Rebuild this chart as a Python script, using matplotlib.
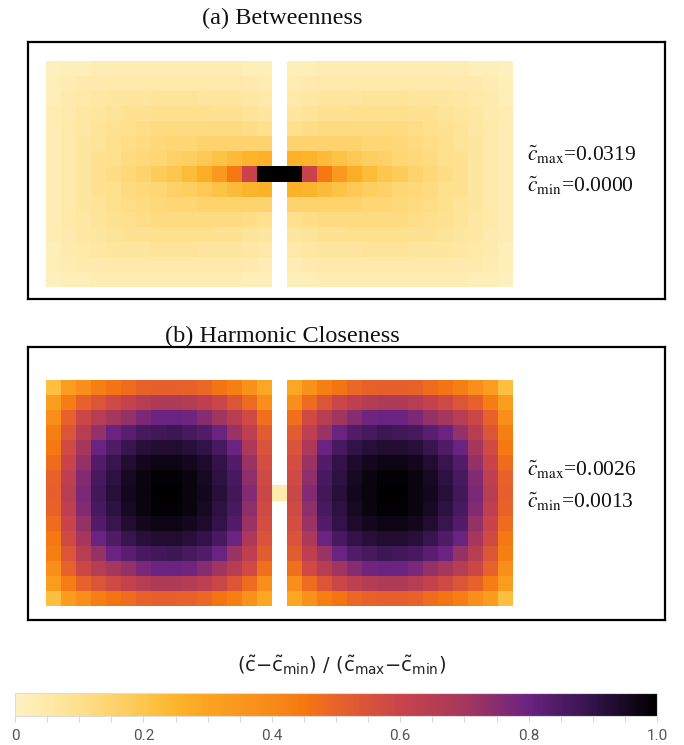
import numpy as np
import matplotlib
matplotlib.use("Agg")
import matplotlib.pyplot as plt
from matplotlib.colors import LinearSegmentedColormap, Normalize
import matplotlib.cm as cm

plt.rcParams['mathtext.fontset'] = 'stix'
plt.rcParams['font.family'] = ['Liberation Serif', 'DejaVu Serif']

nan = np.nan

# ---------------- data ----------------
titles = ["(a) Betweenness", "(b) Harmonic Closeness"]
c_max = ["0.0319", "0.0026"]
c_min = ["0.0000", "0.0013"]

# normalized betweenness: 15 rows x 31 columns (middle column = bridge)
betweenness = [
    [.01,.02,.02,.03,.03,.03,.03,.03,.03,.03,.03,.03,.03,.02,.02, nan, .02,.02,.03,.03,.03,.03,.03,.03,.03,.03,.03,.03,.02,.02,.01],
    [.02,.03,.04,.04,.05,.05,.05,.05,.05,.05,.05,.05,.05,.04,.03, nan, .03,.04,.05,.05,.05,.05,.05,.05,.05,.05,.05,.04,.04,.03,.02],
    [.02,.04,.05,.06,.07,.07,.07,.08,.08,.08,.07,.07,.07,.06,.05, nan, .05,.06,.07,.07,.07,.08,.08,.08,.07,.07,.07,.06,.05,.04,.02],
    [.03,.04,.06,.07,.08,.09,.09,.10,.10,.10,.10,.09,.09,.08,.07, nan, .07,.08,.09,.09,.10,.10,.10,.10,.09,.09,.08,.07,.06,.04,.03],
    [.03,.05,.06,.08,.09,.10,.11,.12,.12,.12,.12,.12,.12,.11,.10, nan, .10,.11,.12,.12,.12,.12,.12,.12,.11,.10,.09,.08,.06,.05,.03],
    [.03,.05,.07,.08,.10,.11,.12,.13,.14,.14,.15,.15,.15,.15,.15, nan, .15,.15,.15,.15,.15,.14,.14,.13,.12,.11,.10,.08,.07,.05,.03],
    [.03,.05,.07,.09,.10,.12,.13,.14,.16,.17,.19,.21,.23,.25,.26, nan, .26,.25,.23,.21,.19,.17,.16,.14,.13,.12,.10,.09,.07,.05,.03],
    [.03,.05,.07,.09,.11,.13,.15,.18,.20,.23,.27,.34,.45,.60,1.0, 1.0, 1.0,.60,.45,.34,.27,.23,.20,.18,.15,.13,.11,.09,.07,.05,.03],
    [.03,.05,.07,.09,.10,.12,.13,.14,.16,.17,.19,.21,.23,.25,.26, nan, .26,.25,.23,.21,.19,.17,.16,.14,.13,.12,.10,.09,.07,.05,.03],
    [.03,.05,.07,.08,.10,.11,.12,.13,.14,.14,.15,.15,.15,.15,.15, nan, .15,.15,.15,.15,.15,.14,.14,.13,.12,.11,.10,.08,.07,.05,.03],
    [.03,.05,.06,.08,.09,.10,.11,.12,.12,.12,.12,.12,.12,.11,.10, nan, .10,.11,.12,.12,.12,.12,.12,.12,.11,.10,.09,.08,.06,.05,.03],
    [.03,.04,.06,.07,.08,.09,.09,.10,.10,.10,.10,.09,.09,.08,.07, nan, .07,.08,.09,.09,.10,.10,.10,.10,.09,.09,.08,.07,.06,.04,.03],
    [.02,.04,.05,.06,.07,.07,.07,.08,.08,.08,.07,.07,.07,.06,.05, nan, .05,.06,.07,.07,.07,.08,.08,.08,.07,.07,.07,.06,.05,.04,.02],
    [.02,.03,.04,.04,.05,.05,.05,.05,.05,.05,.05,.05,.05,.04,.03, nan, .03,.04,.05,.05,.05,.05,.05,.05,.05,.05,.05,.04,.04,.03,.02],
    [.01,.02,.02,.03,.03,.03,.03,.03,.03,.03,.03,.03,.03,.02,.02, nan, .02,.02,.03,.03,.03,.03,.03,.03,.03,.03,.03,.03,.02,.02,.01],
]

# normalized harmonic closeness: 15 rows x 31 columns
closeness = [
    [.22,.33,.38,.43,.46,.48,.50,.51,.51,.50,.49,.46,.43,.37,.29, nan, .29,.37,.43,.46,.49,.50,.51,.51,.50,.48,.46,.43,.38,.33,.22],
    [.33,.44,.50,.54,.58,.61,.65,.67,.67,.66,.63,.59,.54,.48,.38, nan, .38,.48,.54,.59,.63,.66,.67,.67,.65,.61,.58,.54,.50,.44,.33],
    [.38,.50,.59,.65,.70,.73,.77,.80,.80,.79,.75,.71,.65,.58,.47, nan, .47,.58,.65,.71,.75,.79,.80,.80,.77,.73,.70,.65,.59,.50,.38],
    [.43,.54,.65,.73,.80,.83,.86,.87,.88,.86,.84,.80,.72,.63,.52, nan, .52,.63,.72,.80,.84,.86,.88,.87,.86,.83,.80,.73,.65,.54,.43],
    [.45,.58,.70,.80,.85,.89,.92,.93,.93,.92,.90,.86,.80,.68,.55, nan, .55,.68,.80,.86,.90,.92,.93,.93,.92,.89,.85,.80,.70,.58,.45],
    [.48,.60,.73,.84,.89,.93,.96,.97,.97,.96,.94,.90,.84,.72,.57, nan, .57,.72,.84,.90,.94,.96,.97,.97,.96,.93,.89,.84,.73,.60,.48],
    [.50,.63,.76,.86,.91,.95,.98,.99,.99,.98,.95,.91,.86,.74,.58, nan, .58,.74,.86,.91,.95,.98,.99,.99,.98,.95,.91,.86,.76,.63,.50],
    [.51,.65,.77,.87,.92,.96,.98,1.0,1.0,.98,.96,.92,.87,.76,.59, .04, .59,.76,.87,.92,.96,.98,1.0,1.0,.98,.96,.92,.87,.77,.65,.51],
    [.50,.63,.76,.86,.91,.95,.98,.99,.99,.98,.95,.91,.86,.74,.58, nan, .58,.74,.86,.91,.95,.98,.99,.99,.98,.95,.91,.86,.76,.63,.50],
    [.48,.60,.73,.84,.89,.93,.96,.97,.97,.96,.94,.90,.84,.72,.57, nan, .57,.72,.84,.90,.94,.96,.97,.97,.96,.93,.89,.84,.73,.60,.48],
    [.45,.58,.70,.80,.85,.89,.92,.93,.93,.92,.90,.86,.80,.68,.55, nan, .55,.68,.80,.86,.90,.92,.93,.93,.92,.89,.85,.80,.70,.58,.45],
    [.43,.54,.65,.73,.80,.83,.86,.87,.88,.86,.84,.80,.72,.63,.52, nan, .52,.63,.72,.80,.84,.86,.88,.87,.86,.83,.80,.73,.65,.54,.43],
    [.38,.50,.59,.65,.70,.73,.77,.80,.80,.79,.75,.71,.65,.58,.47, nan, .47,.58,.65,.71,.75,.79,.80,.80,.77,.73,.70,.65,.59,.50,.38],
    [.33,.44,.50,.54,.58,.61,.65,.67,.67,.66,.63,.59,.54,.48,.38, nan, .38,.48,.54,.59,.63,.66,.67,.67,.65,.61,.58,.54,.50,.44,.33],
    [.22,.33,.38,.43,.46,.48,.50,.51,.51,.50,.49,.46,.43,.37,.29, nan, .29,.37,.43,.46,.49,.50,.51,.51,.50,.48,.46,.43,.38,.33,.22],
]

cbar_ticks = [0, 0.2, 0.4, 0.6, 0.8, 1.0]
cbar_ticklabels = ["0", "0.2", "0.4", "0.6", "0.8", "1.0"]

# colour scale (reversed sunset-like)
cm_pos = [0.0, 0.1, 0.2, 0.25, 0.3, 0.4, 0.45, 0.5, 0.6, 0.7, 0.8, 0.9, 1.0]
cm_hex = ['#fef1c2', '#fee08c', '#fdc64c', '#fcb42a', '#fba421', '#f88a18', '#f57811',
          '#e8632a', '#c9444a', '#a6375c', '#6a2381', '#33134a', '#000000']
cmap = LinearSegmentedColormap.from_list("sunset_r", list(zip(cm_pos, cm_hex)))
cmap.set_bad((1, 1, 1, 0))

# ---------------- layout ----------------
W, H = 684, 745
fig = plt.figure(figsize=(W / 100, H / 100), dpi=100)

def fax(x0, y0, x1, y1):
    return fig.add_axes([x0 / W, 1 - y1 / H, (x1 - x0) / W, (y1 - y0) / H])

grid_x0, grid_x1 = 46, 513
panels = [
    dict(frame=(28, 42, 665, 299), gy0=61, gy1=287, title_y=18, ty=(155, 186), data=betweenness),
    dict(frame=(28, 347, 665, 620), gy0=380, gy1=606, title_y=336, ty=(470, 502), data=closeness),
]

norm = Normalize(0, 1)
for i, p in enumerate(panels):
    fx0, fy0, fx1, fy1 = p['frame']
    ax = fax(fx0, fy0, fx1, fy1)
    arr = np.ma.masked_invalid(np.array(p['data'], dtype=float))
    nr, nc = arr.shape
    cw = (grid_x1 - grid_x0) / nc
    ch = (p['gy1'] - p['gy0']) / nr
    ax.pcolormesh(np.arange(nc + 1), np.arange(nr + 1), arr, cmap=cmap, norm=norm,
                  shading='flat', edgecolors='none', antialiased=False)
    ax.set_xlim((fx0 - grid_x0) / cw, (fx1 - grid_x0) / cw)
    ax.set_ylim((fy1 - p['gy0']) / ch, (fy0 - p['gy0']) / ch)
    ax.set_xticks([]); ax.set_yticks([])
    for s in ax.spines.values():
        s.set_linewidth(1.6)
        s.set_color('black')
    fig.text(282 / W, 1 - p['title_y'] / H, titles[i], ha='center', va='center',
             fontsize=17.5, color='#111111')
    fig.text(527 / W, 1 - p['ty'][0] / H, r'$\tilde{c}_{\mathrm{max}}$=' + c_max[i],
             ha='left', va='center', fontsize=15.5, color='#111111')
    fig.text(527 / W, 1 - p['ty'][1] / H, r'$\tilde{c}_{\mathrm{min}}$=' + c_min[i],
             ha='left', va='center', fontsize=15.5, color='#111111')

# colour bar
cax = fax(15, 693, 657, 716)
sm = cm.ScalarMappable(norm=norm, cmap=cmap)
cb = fig.colorbar(sm, cax=cax, orientation='horizontal')
cb.outline.set_edgecolor('#dddddd')
cb.outline.set_linewidth(0.8)
cb.set_ticks(cbar_ticks)
cb.set_ticklabels(cbar_ticklabels)
cax.xaxis.set_minor_locator(matplotlib.ticker.MultipleLocator(0.05))
cax.tick_params(axis='x', which='both', length=4, width=0.8, color='#d8d8d8',
                labelsize=11, labelcolor='#555555', pad=5)
for lab in cax.get_xticklabels():
    lab.set_fontfamily(['Roboto', 'DejaVu Sans'])
fig.text(342 / W, 1 - 665 / H,
         r'$(\tilde{\mathrm{c}}{-}\tilde{\mathrm{c}}_{\mathrm{min}})\ /\ (\tilde{\mathrm{c}}_{\mathrm{max}}{-}\tilde{\mathrm{c}}_{\mathrm{min}})$',
         ha='center', va='center', fontsize=14, color='#222222', math_fontfamily='dejavusans')

fig.savefig('out.png', dpi=100)
